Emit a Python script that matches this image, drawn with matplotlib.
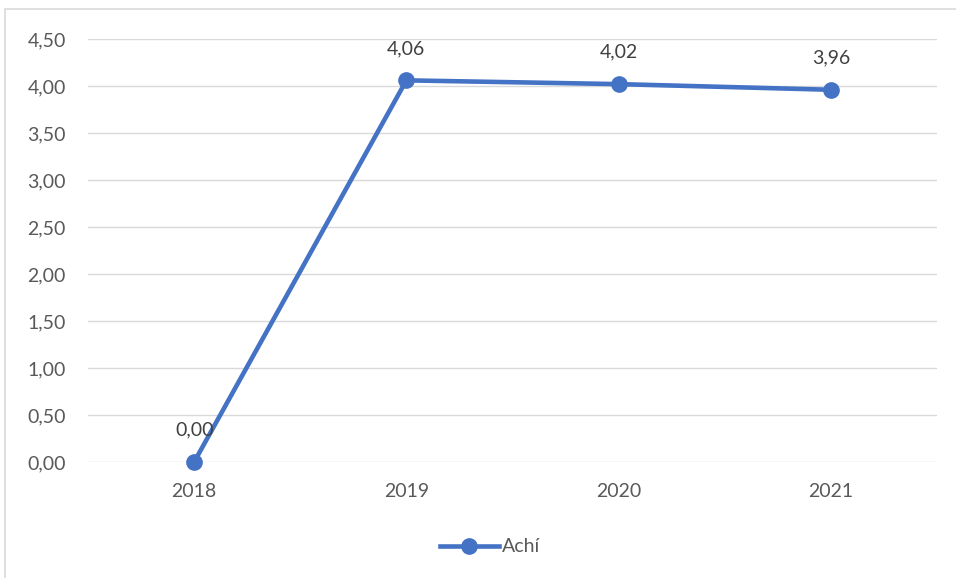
import matplotlib.pyplot as plt
from matplotlib.patches import Rectangle

anos = ['2018', '2019', '2020', '2021']
valores = [0.00, 4.06, 4.02, 3.96]
yticks = [0, 0.5, 1, 1.5, 2, 2.5, 3, 3.5, 4, 4.5]

plt.rcParams['font.family'] = ['Lato', 'DejaVu Sans']

W, H = 956, 578
fig = plt.figure(figsize=(W / 100, H / 100), dpi=100)

# moldura clara em volta do grafico (cortada a direita e embaixo)
fig.patches.append(Rectangle((5 / W, -0.05), 1, 1.05 - 9 / H, transform=fig.transFigure,
                             fill=False, edgecolor='#D9D9D9', linewidth=1.2))

ax = fig.add_axes([88 / W, 1 - 462 / H, (937 - 88) / W, (462 - 39) / H])
x = list(range(len(anos)))
ax.plot(x, valores, color='#4472C4', linewidth=3.3, marker='o', markersize=11,
        label='Achí', zorder=3, clip_on=False)

for xi, v in zip(x, valores):
    ax.annotate(f'{v:.2f}'.replace('.', ','), (xi, v), xytext=(0, 23),
                textcoords='offset points', ha='center', va='center',
                fontsize=14, color='#404040')

ax.set_xlim(-0.5, len(anos) - 0.5)
ax.set_ylim(0, 4.5)
ax.set_xticks(x)
ax.set_xticklabels(anos)
ax.set_yticks(yticks)
ax.set_yticklabels([f'{t:.2f}'.replace('.', ',') for t in yticks])
ax.tick_params(length=0, labelsize=14, labelcolor='#595959')
ax.tick_params(axis='y', pad=16)
ax.tick_params(axis='x', pad=15)
ax.grid(axis='y', color='#D9D9D9', linewidth=1)
ax.set_axisbelow(True)
for s in ax.spines.values():
    s.set_visible(False)

fig.legend(loc='center', bbox_to_anchor=(0.513, 1 - 547 / H), frameon=False,
           fontsize=14, labelcolor='#595959', handlelength=3.0, handletextpad=0.2)

fig.savefig('out.png', dpi=100)
